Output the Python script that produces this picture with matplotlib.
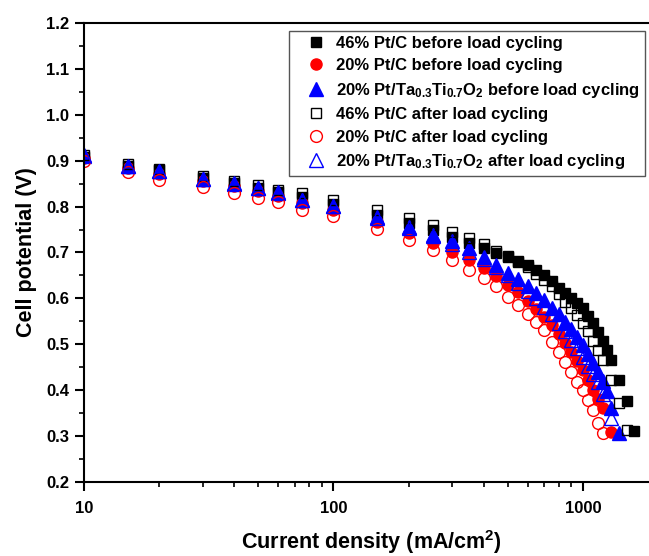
import matplotlib
matplotlib.use("Agg")
import matplotlib.pyplot as plt
from matplotlib.ticker import FixedLocator, FuncFormatter, MultipleLocator, NullFormatter

# ---------------- fonts ----------------
plt.rcParams['font.family'] = ['Liberation Sans', 'DejaVu Sans']
plt.rcParams['font.weight'] = 'bold'
plt.rcParams['mathtext.fontset'] = 'custom'
plt.rcParams['mathtext.rm'] = 'Liberation Sans:bold'
plt.rcParams['mathtext.bf'] = 'Liberation Sans:bold'
plt.rcParams['mathtext.it'] = 'Liberation Sans:bold:italic'
plt.rcParams['mathtext.sf'] = 'Liberation Sans:bold'
plt.rcParams['mathtext.default'] = 'bf'

# ---------------- data ----------------
current_low = [10, 15, 20, 30, 40, 50, 60, 75, 100, 150, 200, 250, 300, 350,
               400, 450, 500, 550, 600, 650, 700, 750, 800, 850, 900, 950,
               1000, 1050, 1100, 1150, 1200]

# 46% Pt/C before
pt46_before_x = current_low + [1250, 1300, 1400, 1500, 1600]
pt46_before_v = [0.908, 0.889, 0.879, 0.862, 0.851, 0.841, 0.832, 0.822, 0.806,
                 0.782, 0.764, 0.749, 0.734, 0.721, 0.710, 0.700, 0.691, 0.682,
                 0.672, 0.662, 0.651, 0.637, 0.623, 0.612, 0.600, 0.590, 0.578,
                 0.561, 0.546, 0.527, 0.508, 0.488, 0.466, 0.422, 0.377, 0.312]

# 20% Pt/C before
pt20_before_x = current_low + [1300]
pt20_before_v = [0.905, 0.885, 0.872, 0.856, 0.845, 0.834, 0.824, 0.808, 0.793,
                 0.767, 0.742, 0.720, 0.702, 0.684, 0.666, 0.648, 0.630, 0.613,
                 0.595, 0.577, 0.559, 0.541, 0.522, 0.503, 0.484, 0.464, 0.444,
                 0.423, 0.400, 0.380, 0.362, 0.310]

# 20% Pt/Ta0.3Ti0.7O2 before
tati_before_x = current_low + [1250, 1300, 1400]
tati_before_v = [0.910, 0.889, 0.877, 0.861, 0.850, 0.840, 0.830, 0.815, 0.802,
                 0.777, 0.756, 0.738, 0.724, 0.709, 0.691, 0.673, 0.656, 0.643,
                 0.627, 0.611, 0.597, 0.580, 0.565, 0.549, 0.533, 0.516, 0.498,
                 0.479, 0.460, 0.440, 0.420, 0.399, 0.362, 0.306]

# 46% Pt/C after
pt46_after_x = current_low + [1300, 1400, 1500]
pt46_after_v = [0.912, 0.893, 0.883, 0.867, 0.856, 0.847, 0.836, 0.829, 0.814,
                0.793, 0.776, 0.761, 0.745, 0.731, 0.718, 0.704, 0.692, 0.680,
                0.668, 0.653, 0.639, 0.626, 0.610, 0.593, 0.578, 0.564, 0.546,
                0.528, 0.508, 0.487, 0.466, 0.422, 0.372, 0.313]

# 20% Pt/C after
pt20_after_x = current_low
pt20_after_v = [0.900, 0.875, 0.859, 0.842, 0.829, 0.818, 0.811, 0.793, 0.780,
                0.751, 0.728, 0.705, 0.684, 0.662, 0.644, 0.626, 0.604, 0.586,
                0.567, 0.549, 0.531, 0.506, 0.484, 0.462, 0.440, 0.418, 0.400,
                0.379, 0.357, 0.328, 0.306]

# 20% Pt/Ta0.3Ti0.7O2 after
tati_after_x = current_low + [1300]
tati_after_v = [0.912, 0.889, 0.877, 0.861, 0.851, 0.841, 0.831, 0.815, 0.801,
                0.775, 0.754, 0.735, 0.718, 0.702, 0.685, 0.668, 0.651, 0.634,
                0.617, 0.600, 0.582, 0.566, 0.547, 0.528, 0.510, 0.491, 0.472,
                0.453, 0.435, 0.417, 0.392, 0.339]

labels = [
    "46% Pt/C before load cycling",
    "20% Pt/C before load cycling",
    "20% Pt/Ta$_{0.3}$Ti$_{0.7}$O$_2$ before load cycling",
    "46% Pt/C after load cycling",
    "20% Pt/C after load cycling",
    "20% Pt/Ta$_{0.3}$Ti$_{0.7}$O$_2$ after load cycling",
]

x_ticks = [10, 100, 1000]

# ---------------- plot ----------------
fig = plt.figure(figsize=(6.49, 5.56), dpi=100)
ax = fig.add_axes([84 / 649, 74 / 556, 574 / 649, 459 / 556])

ax.plot(pt46_before_x, pt46_before_v, 's', color='black', ms=7.5, mew=1,
        label=labels[0])
ax.plot(pt20_before_x, pt20_before_v, 'o', color='red', ms=8, mew=1,
        label=labels[1])
ax.plot(tati_before_x, tati_before_v, '^', color='blue', ms=9.5, mew=1,
        label=labels[2])
ax.plot(pt46_after_x, pt46_after_v, 's', mfc='none', mec='black', ms=7.5,
        mew=1, label=labels[3])
ax.plot(pt20_after_x, pt20_after_v, 'o', mfc='none', mec='red', ms=8.5,
        mew=1, label=labels[4])
ax.plot(tati_after_x, tati_after_v, '^', mfc='none', mec='blue', ms=9.5,
        mew=1, label=labels[5])

ax.set_xscale('log')
ax.set_xlim(10, 2000)
ax.set_ylim(0.2, 1.2)

ax.xaxis.set_major_locator(FixedLocator(x_ticks))
ax.xaxis.set_major_formatter(FuncFormatter(lambda v, p: "%d" % v))
ax.xaxis.set_minor_formatter(NullFormatter())
ax.yaxis.set_major_locator(MultipleLocator(0.1))
ax.yaxis.set_minor_locator(MultipleLocator(0.05))
ax.yaxis.set_major_formatter(FuncFormatter(lambda v, p: "%.1f" % v))

for side in ['left', 'bottom', 'top', 'right']:
    ax.spines[side].set_linewidth(1.5)

ax.tick_params(which='major', direction='out', length=6.5, width=1.5,
               labelsize=12, pad=4, top=False, right=False)
ax.tick_params(which='minor', direction='out', length=3.5, width=1.2,
               top=False, right=False)
ax.tick_params(axis='x', which='major', pad=7)

ax.set_xlabel("Current density (mA/cm$^2$)", fontsize=15.5,
              fontweight='bold', labelpad=9)
ax.set_ylabel("Cell potential (V)", fontsize=15.5, fontweight='bold',
              labelpad=7)

leg = ax.legend(loc='upper right', bbox_to_anchor=(0.977, 0.983),
                fontsize=12, frameon=True, fancybox=False, framealpha=1,
                edgecolor='#555555', borderpad=0.3, labelspacing=0.45,
                handlelength=2.6, handletextpad=-0.1, borderaxespad=0)
leg.get_frame().set_linewidth(1.0)

fig.savefig("out.png", dpi=100)
